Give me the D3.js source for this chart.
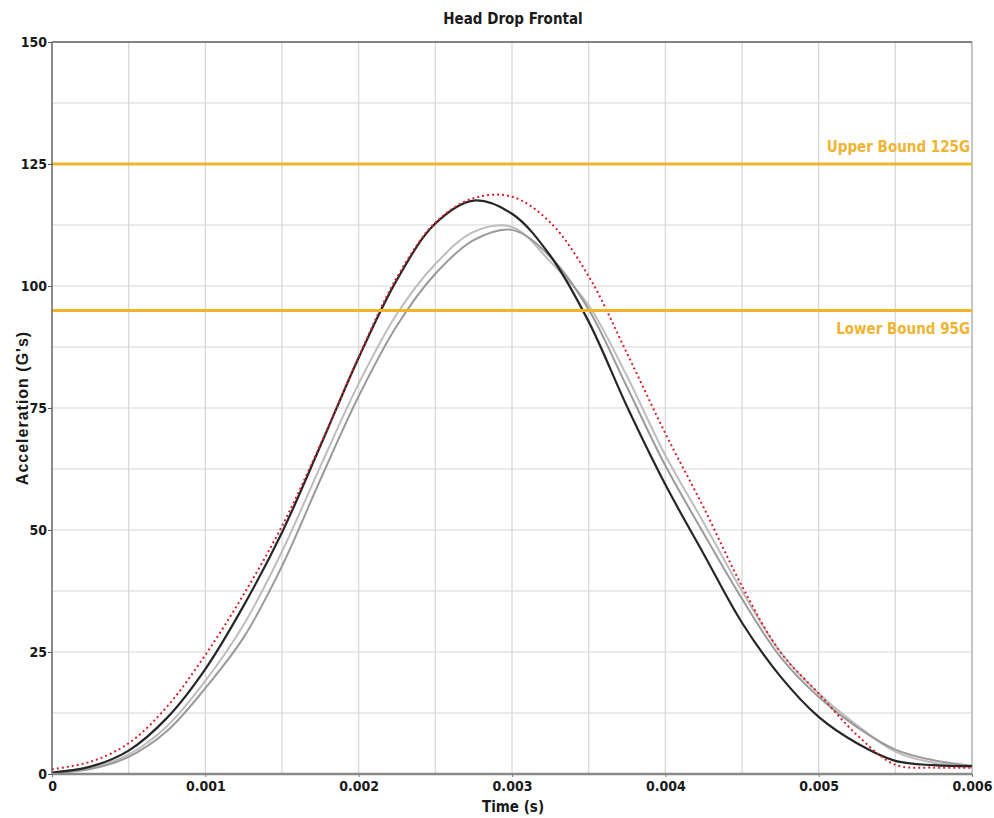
<html>
<head>
    <meta charset="utf-8">
    <style>
        body { margin: 0; background: #ffffff; font-family: "Liberation Sans Narrow", "DejaVu Sans Condensed", "Arial Narrow", sans-serif; }
        svg { display: block; }
        .tick text { font-family: "Liberation Sans Narrow", "DejaVu Sans Condensed", "Arial Narrow", sans-serif; font-weight: bold; font-size: 14px; fill: #1a1a1a; }
    </style>
    <script src="https://cdn.jsdelivr.net/npm/d3@7"></script>
</head>
<body>
<svg id="grafico"></svg>
<script>
    // tiempo (s) de cada muestra
    let tiempos = [0, 0.00025, 0.0005, 0.00075, 0.001, 0.00125, 0.0015, 0.00175, 0.002, 0.00225,
                   0.0025, 0.00275, 0.003, 0.00325, 0.0035, 0.00375, 0.004, 0.00425, 0.0045, 0.00475,
                   0.005, 0.00525, 0.0055, 0.00575, 0.006];

    // aceleraciones (G)
    let serieNegra = [0.3, 1.5, 4.8, 11.5, 21.5, 34.5, 49.5, 67.2, 85.3, 101.3,
                      112.8, 117.5, 114.8, 106.2, 92.7, 75.3, 59.3, 45.1, 31, 20,
                      11.7, 6.3, 2.7, 1.8, 1.6];
    let serieGrisClaro = [0.2, 1.2, 4.0, 9.8, 19.1, 30.6, 45.6, 63, 80, 94.3,
                          104.5, 111.1, 112.1, 105, 96, 81.5, 65.3, 51.5, 37.5, 25,
                          16.5, 10, 4.6, 2.3, 1.5];
    let serieGrisMedio = [0.2, 1.0, 3.5, 8.8, 17.6, 28, 42.6, 60.3, 77.4, 91.9,
                          102.5, 109.4, 111.5, 106, 95.2, 79.3, 63.2, 49.3, 35.9, 24,
                          15.8, 9.6, 5, 2.8, 1.7];
    let serieRoja = [1.0, 2.5, 6.3, 13.8, 24.4, 36.8, 50.8, 67.5, 85.5, 101.8,
                     113, 118, 118.3, 113, 102, 86.2, 69.8, 54.6, 38.5, 25,
                     16.5, 8, 1.9, 1.3, 1.3];

    let limites = [
        { valor: 125, texto: "Upper Bound 125G" },
        { valor: 95, texto: "Lower Bound 95G" }
    ];

    let ticksY = [0, 25, 50, 75, 100, 125, 150];
    let ticksX = [0, 0.001, 0.002, 0.003, 0.004, 0.005, 0.006];
    let rejillaY = [12.5, 25, 37.5, 50, 62.5, 75, 87.5, 100, 112.5, 125, 137.5];
    let rejillaX = [0.0005, 0.001, 0.0015, 0.002, 0.0025, 0.003, 0.0035, 0.004, 0.0045, 0.005, 0.0055];

    let ancho = 994, alto = 818;
    let margenes = { top: 42, bottom: 44, left: 52, right: 22 };

    let contenedor = d3.select("#grafico").attr("width", ancho).attr("height", alto);

    let escalaX = d3.scaleLinear().domain([0, 0.006]).range([margenes.left, ancho - margenes.right]);
    let escalaY = d3.scaleLinear().domain([0, 150]).range([alto - margenes.bottom, margenes.top]);

    // rejilla
    let rejilla = contenedor.append("g");
    rejilla.selectAll(".rh").data(rejillaY).enter().append("line")
        .attr("x1", escalaX(0)).attr("x2", escalaX(0.006))
        .attr("y1", d => escalaY(d)).attr("y2", d => escalaY(d))
        .attr("stroke", "#d6d6d6").attr("stroke-width", 1.2);
    rejilla.selectAll(".rv").data(rejillaX).enter().append("line")
        .attr("y1", escalaY(0)).attr("y2", escalaY(150))
        .attr("x1", d => escalaX(d)).attr("x2", d => escalaX(d))
        .attr("stroke", "#d6d6d6").attr("stroke-width", 1.2);

    // borde derecho y superior
    contenedor.append("line")
        .attr("x1", escalaX(0.006)).attr("x2", escalaX(0.006))
        .attr("y1", escalaY(0)).attr("y2", escalaY(150))
        .attr("stroke", "#a0a0a0").attr("stroke-width", 1.2);
    contenedor.append("line")
        .attr("x1", escalaX(0)).attr("x2", escalaX(0.006))
        .attr("y1", escalaY(150)).attr("y2", escalaY(150))
        .attr("stroke", "#5a5a5a").attr("stroke-width", 1.5);

    // series
    let linea = serie => d3.line()
        .x((d, i) => escalaX(tiempos[i]))
        .y(d => escalaY(d))
        .curve(d3.curveCatmullRom.alpha(0.5))(serie);

    let series = [
        { datos: serieGrisClaro, color: "#bdbdbd", ancho: 2, guion: null },
        { datos: serieGrisMedio, color: "#9a9a9a", ancho: 2, guion: null },
        { datos: serieNegra, color: "#262626", ancho: 2.2, guion: null },
        { datos: serieRoja, color: "#d4202a", ancho: 2, guion: "2,3" }
    ];

    contenedor.append("g").selectAll("path").data(series).enter().append("path")
        .attr("d", s => linea(s.datos))
        .attr("fill", "none")
        .attr("stroke", s => s.color)
        .attr("stroke-width", s => s.ancho)
        .attr("stroke-dasharray", s => s.guion);

    // limites
    let grupoLimites = contenedor.append("g");
    grupoLimites.selectAll("line").data(limites).enter().append("line")
        .attr("x1", escalaX(0)).attr("x2", escalaX(0.006))
        .attr("y1", d => escalaY(d.valor)).attr("y2", d => escalaY(d.valor))
        .attr("stroke", "#f0b428").attr("stroke-width", 3);
    grupoLimites.selectAll("text").data(limites).enter().append("text")
        .attr("x", escalaX(0.006) - 2)
        .attr("y", d => d.valor > 100 ? escalaY(d.valor) - 12 : escalaY(d.valor) + 24)
        .attr("text-anchor", "end")
        .attr("font-weight", "bold")
        .attr("font-size", 15)
        .attr("fill", "#eeb432")
        .text(d => d.texto);

    // ejes
    let ejeY = d3.axisLeft(escalaY).tickValues(ticksY).tickSize(4).tickPadding(1).tickFormat(d3.format("d"));
    let gY = contenedor.append("g").attr("transform", `translate(${margenes.left},0)`).call(ejeY);
    gY.select(".domain").remove();
    gY.selectAll(".tick line").attr("stroke", "#555");

    let ejeX = d3.axisBottom(escalaX).tickValues(ticksX).tickSize(3).tickPadding(4)
        .tickFormat(d => d === 0 ? "0" : d3.format(".3f")(d));
    let gX = contenedor.append("g").attr("transform", `translate(0,${alto - margenes.bottom})`).call(ejeX);
    gX.select(".domain").remove();
    gX.selectAll(".tick line").attr("stroke", "#777");

    contenedor.append("line")
        .attr("x1", escalaX(0)).attr("x2", escalaX(0))
        .attr("y1", escalaY(0)).attr("y2", escalaY(150))
        .attr("stroke", "#666").attr("stroke-width", 1.5);
    contenedor.append("line")
        .attr("x1", escalaX(0)).attr("x2", escalaX(0.006))
        .attr("y1", escalaY(0)).attr("y2", escalaY(0))
        .attr("stroke", "#8a8a8a").attr("stroke-width", 2.5);

    // titulos
    contenedor.append("text")
        .attr("x", 513).attr("y", 24)
        .attr("text-anchor", "middle").attr("font-weight", "bold").attr("font-size", 15)
        .attr("fill", "#1a1a1a")
        .text("Head Drop Frontal");
    contenedor.append("text")
        .attr("x", 513).attr("y", 812)
        .attr("text-anchor", "middle").attr("font-weight", "bold").attr("font-size", 15)
        .attr("fill", "#1a1a1a")
        .text("Time (s)");
    contenedor.append("text")
        .attr("transform", `translate(28,${(escalaY(0) + escalaY(150)) / 2}) rotate(-90)`)
        .attr("text-anchor", "middle").attr("font-weight", "bold").attr("font-size", 16)
        .attr("letter-spacing", 1)
        .attr("font-family", "'Liberation Sans', Arial, sans-serif")
        .attr("fill", "#1a1a1a")
        .text("Acceleration (G's)");
</script>
</body>
</html>
